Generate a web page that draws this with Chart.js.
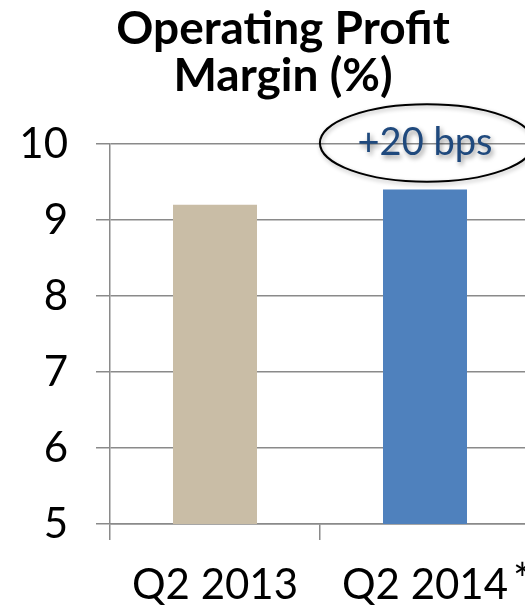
<!DOCTYPE html>
<html>
<head>
<meta charset="utf-8">
<style>
  html, body { margin: 0; padding: 0; background: #ffffff; overflow: hidden; width: 525px; height: 607px; }
  #wrap { position: relative; width: 566px; height: 607px; }
</style>
<script src="https://cdn.jsdelivr.net/npm/chart.js@4/dist/chart.umd.min.js"></script>
</head>
<body>
<div id="wrap"><canvas id="c" width="566" height="607"></canvas></div>
<script>
// Quarterly operating profit margin, in percent
const categories = ['Q2 2013', 'Q2 2014'];
const footnoteMarks = ['', '*'];
const marginValues = [9.2, 9.4];
const barColors = ['#c9bda6', '#4f81bd'];
const yTicks = [5, 6, 7, 8, 9, 10];
const titleLines = ['Operating Profit', 'Margin (%)'];

const FONT = 'Lato, "Open Sans", sans-serif';
const GRID = '#8a8a8a';

// change between the two quarters, in basis points
const changeBps = Math.round((marginValues[1] - marginValues[0]) * 100);
const changeLabel = (changeBps >= 0 ? '+' : '') + changeBps + ' bps';

// two-line bold heading, centred on the canvas
const headingPlugin = {
  id: 'heading',
  afterDraw(chart) {
    const ctx = chart.ctx;
    ctx.save();
    ctx.font = 'bold 46px ' + FONT;
    ctx.fillStyle = '#000';
    ctx.textAlign = 'center';
    ctx.textBaseline = 'middle';
    titleLines.forEach((t, i) => ctx.fillText(t, chart.width / 2, 29.5 + i * 47));
    ctx.restore();
  }
};

// footnote marker after a category label
const footnotePlugin = {
  id: 'footnotes',
  afterDraw(chart) {
    const ctx = chart.ctx;
    const xs = chart.scales.x;
    const f = xs.options.ticks.font;
    ctx.save();
    categories.forEach((c, i) => {
      if (!footnoteMarks[i]) return;
      ctx.font = f.size + 'px ' + f.family;
      const w = ctx.measureText(c).width;
      const x = xs.getPixelForValue(i) + w / 2 + 5;
      ctx.font = '44px ' + f.family;
      ctx.fillStyle = '#000';
      ctx.textAlign = 'left';
      ctx.textBaseline = 'top';
      ctx.fillText(footnoteMarks[i], x, 559);
    });
    ctx.restore();
  }
};

// circled change callout above the latest bar
const calloutPlugin = {
  id: 'callout',
  afterDatasetsDraw(chart) {
    const ctx = chart.ctx;
    const xs = chart.scales.x, ys = chart.scales.y;
    const cx = xs.getPixelForValue(1) + 2;
    const cy = ys.getPixelForValue(yTicks[yTicks.length - 1]) - 1;
    const band = xs.getPixelForValue(1) - xs.getPixelForValue(0);
    const rx = band * 0.51;
    const ry = (ys.getPixelForValue(9) - ys.getPixelForValue(10)) * 0.51;
    ctx.save();
    ctx.shadowColor = 'rgba(0,0,0,0.3)';
    ctx.shadowBlur = 4;
    ctx.shadowOffsetX = 1;
    ctx.shadowOffsetY = 2;
    ctx.beginPath();
    ctx.ellipse(cx, cy, rx, ry, 0, 0, Math.PI * 2);
    ctx.strokeStyle = '#000';
    ctx.lineWidth = 2;
    ctx.stroke();
    ctx.shadowColor = 'rgba(0,0,0,0.4)';
    ctx.shadowBlur = 5;
    ctx.shadowOffsetX = 2;
    ctx.shadowOffsetY = 3;
    ctx.font = '38px ' + FONT;
    ctx.fillStyle = '#1f497d';
    ctx.textAlign = 'center';
    ctx.textBaseline = 'middle';
    ctx.fillText(changeLabel, cx - 2, cy);
    ctx.restore();
  }
};

new Chart(document.getElementById('c'), {
  type: 'bar',
  data: {
    labels: categories,
    datasets: [{
      data: marginValues,
      backgroundColor: barColors,
      borderWidth: 0,
      barPercentage: 0.4,
      categoryPercentage: 1.0
    }]
  },
  options: {
    responsive: false,
    devicePixelRatio: 1,
    animation: false,
    layout: { padding: { top: 144, left: 0, right: 36, bottom: 0 } },
    plugins: {
      legend: { display: false },
      tooltip: { enabled: false },
      title: { display: false }
    },
    scales: {
      x: {
        grid: { offset: true, drawOnChartArea: false, drawTicks: true, tickLength: 16, color: GRID, lineWidth: 1.5 },
        border: { display: true, color: GRID, width: 1.5 },
        ticks: { color: '#000', font: { family: FONT, size: 42 }, padding: 20 },
        afterFit(scale) { scale.height = 83; }
      },
      y: {
        min: yTicks[0],
        max: yTicks[yTicks.length - 1],
        afterBuildTicks(scale) { scale.ticks = yTicks.map(v => ({ value: v })); },
        grid: { color: GRID, lineWidth: 1.5, tickLength: 14, drawTicks: true },
        border: { display: true, color: GRID, width: 1.5 },
        ticks: { color: '#000', font: { family: FONT, size: 42 }, padding: 28 },
        afterFit(scale) { scale.width = 110; }
      }
    }
  },
  plugins: [calloutPlugin, footnotePlugin, headingPlugin]
});
</script>
</body>
</html>
